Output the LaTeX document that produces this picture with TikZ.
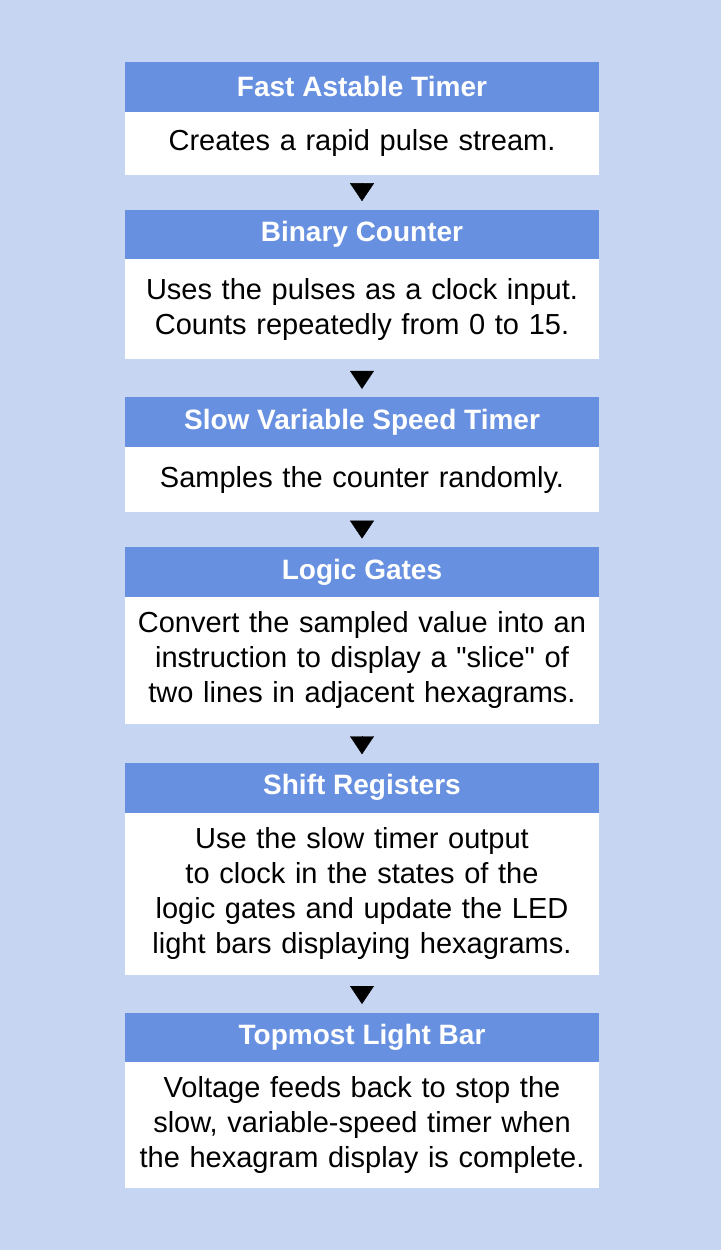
\documentclass[tikz,border=0pt]{standalone}
\usepackage{fontspec}
\setmainfont{Liberation Sans}
\usetikzlibrary{positioning,arrows.meta}
\definecolor{bgblue}{RGB}{198,213,242}
\definecolor{headblue}{RGB}{104,144,224}
\tikzset{node distance=35pt, auto}
\tikzset{
  head/.style={fill=headblue, text=white, font=\fontsize{28}{34}\selectfont\bfseries,
    minimum width=474pt, minimum height=49.7pt, inner sep=0pt, outer sep=0pt},
  desc/.style={fill=white, text width=474pt, align=center,
    font=\fontsize{29}{35}\selectfont, inner sep=0pt, outer sep=0pt},
  flow/.style={-{Triangle[width=24pt,length=18pt]}, shorten >=8.5pt}
}

\begin{document}
\begin{tikzpicture}

           \fill[bgblue] (0,0) rectangle (721pt,-1250pt);
           \useasboundingbox (0,0) rectangle (721pt,-1250pt);

           \node (T1) [head] at (362pt,-86.85pt) {Fast Astable Timer};
           \node (D1) [desc, minimum height=63pt, below=0pt of T1] {Creates a rapid pulse stream.};
           \node (T2) [head, below=35pt of D1] {Binary Counter};
           \node (D2) [desc, minimum height=100pt, below=0pt of T2] {Uses the pulses as a clock input.\\ Counts repeatedly from 0 to 15.};
           \node (T3) [head, below=38pt of D2] {Slow Variable Speed Timer};
           \node (D3) [desc, minimum height=65pt, below=0pt of T3] {Samples the counter randomly.};
           \node (T4) [head, below=35pt of D3] {Logic Gates};
           \node (D4) [desc, minimum height=127pt, below=0pt of T4] {Convert the sampled value into an\\ instruction to display a \textquotedbl slice\textquotedbl{} of\\ two lines in adjacent hexagrams.};
           \node (T5) [head, below=39pt of D4] {Shift Registers};
           \node (D5) [desc, minimum height=162pt, below=0pt of T5] {Use the slow timer output\\ to clock in the states of the\\ logic gates and update the LED\\ light bars displaying hexagrams.};
           \node (T6) [head, below=38pt of D5] {Topmost Light Bar};
           \node (D6) [desc, minimum height=126pt, below=0pt of T6] {Voltage feeds back to stop the\\ slow, variable-speed timer when\\ the hexagram display is complete.};

           \draw[flow, shorten <=8.5pt] (D1) -- (T2);
           \draw[flow, shorten <=11.5pt] (D2) -- (T3);
           \draw[flow, shorten <=8.5pt] (D3) -- (T4);
           \draw[flow, shorten <=12.5pt] (D4) -- (T5);
           \draw[flow, shorten <=11.5pt] (D5) -- (T6);

         \end{tikzpicture}
\end{document}
